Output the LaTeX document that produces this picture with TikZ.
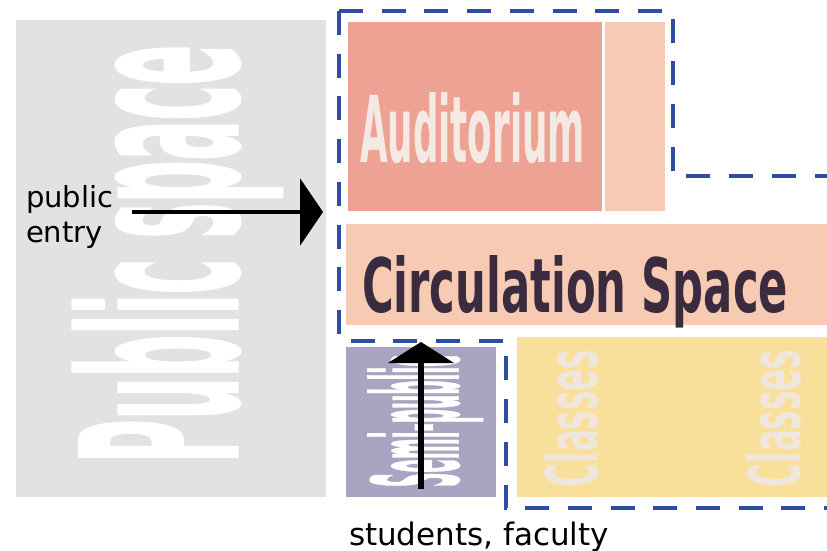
\documentclass[tikz,border=0pt]{standalone}
\usepackage{fontspec}
\usepackage{graphicx}
\setmainfont{DejaVu Sans}
\usetikzlibrary{arrows.meta}

\definecolor{pubgray}{HTML}{E3E2E3}
\definecolor{audsalmon}{HTML}{EEA294}
\definecolor{audlight}{HTML}{F7CAB5}
\definecolor{circfill}{HTML}{F7CAB4}
\definecolor{semifill}{HTML}{A8A4C2}
\definecolor{classfill}{HTML}{F8E09B}
\definecolor{circtext}{HTML}{3A2B3E}
\definecolor{audtext}{HTML}{F4EAE3}
\definecolor{classtext}{HTML}{F0E6DC}
\definecolor{zoneblue}{HTML}{2E4DA0}

% heavy face for the stretched room names
\newcommand{\heavyface}{\bfseries\addfontfeatures{FakeBold=1.4}}

\begin{document}
\begin{tikzpicture}[x=1pt,y=-1pt,
  block/.style={draw=none,inner sep=0pt,outer sep=0pt,anchor=north west},
  label/.style={inner sep=0pt,outer sep=0pt,anchor=base west},
  uplabel/.style={inner sep=0pt,outer sep=0pt,anchor=base west,rotate=90},
  note/.style={inner sep=0pt,outer sep=0pt,anchor=base west,text=black,
    font=\fontsize{29}{35}\selectfont},
  flow/.style={draw=black,line width=3.5pt},
  zoneline/.style={draw=zoneblue,line width=3.8pt,dash pattern=on 24pt off 18.7pt}]

\useasboundingbox (0,0) rectangle (827,551);
\fill[white] (0,0) rectangle (827,551);

% spaces
\node[block,fill=pubgray,minimum width=310pt,minimum height=477pt] (public) at (16,20) {};
\node[block,fill=audsalmon,minimum width=254pt,minimum height=189pt] (audit) at (348,22) {};
\node[block,fill=audlight,minimum width=60pt,minimum height=189pt] (auditside) at (605,22) {};
\node[block,fill=circfill,minimum width=481pt,minimum height=101pt] (circ) at (346,224) {};
\node[block,fill=semifill,minimum width=150pt,minimum height=150pt] (semi) at (346,347) {};
\node[block,fill=classfill,minimum width=310pt,minimum height=160pt] (classes) at (517,337) {};

% space names
\node[uplabel,text=white] (pubname) at (237,463)
  {\resizebox{418pt}{164pt}{\heavyface Public space}};
\node[label,text=audtext] (audname) at (360,162)
  {\resizebox{225pt}{70pt}{\bfseries Auditorium}};
\node[label,text=circtext] (circname) at (362,312)
  {\resizebox{426pt}{57pt}{\bfseries Circulation Space}};
\node[uplabel,text=white] (seminame) at (458,487)
  {\resizebox{132pt}{90pt}{\heavyface Semi-public}};
\node[uplabel,text=classtext] (classnameA) at (597,487)
  {\resizebox{137pt}{54pt}{\bfseries Classes}};
\node[uplabel,text=classtext] (classnameB) at (800,487)
  {\resizebox{137pt}{54pt}{\bfseries Classes}};

% controlled zone boundary
\draw[zoneline] (339,11) -- (673,11) -- (673,176) -- (827,176);
\draw[zoneline] (339,11) -- (339,341) -- (506,341) -- (506,508) -- (827,508);

% entries
\node[note] (pubword) at (26,207) {public};
\node[note] (entryword) at (26,242) {entry};
\coordinate (entrystart) at (132,212);
\draw[flow,-{Triangle[length=23pt,width=67pt]}]
  (entrystart) -- ([xshift=-3pt]public.east |- entrystart);

\node[note,font=\fontsize{31}{37}\selectfont] (students) at (349,545) {students, faculty};
\coordinate (studentsin) at (421,489);
\draw[line width=6pt,-{Triangle[length=21pt,width=65pt]}]
  (studentsin) -- ([yshift=5pt]semi.north -| studentsin);

\end{tikzpicture}
\end{document}
